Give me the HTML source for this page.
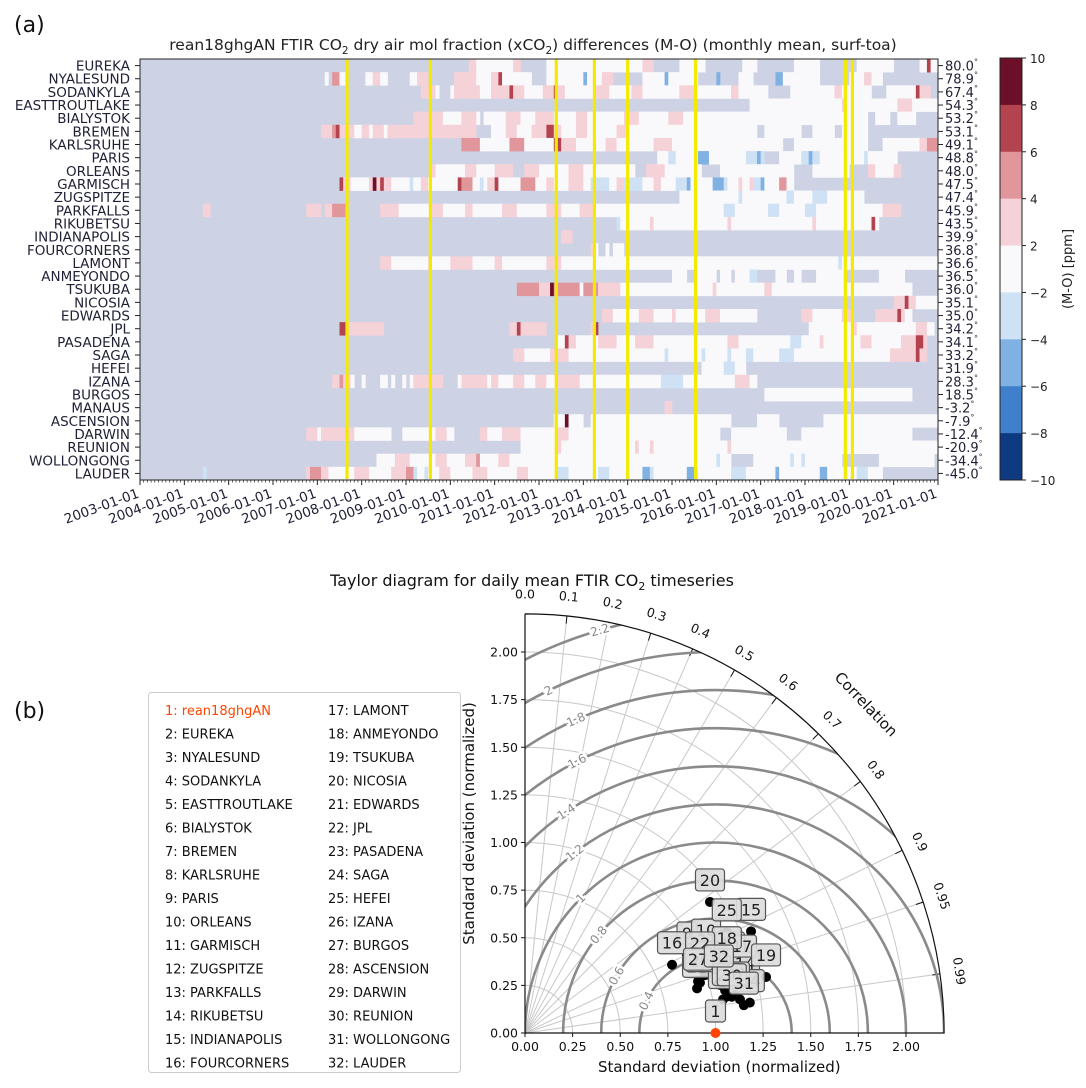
<!DOCTYPE html>
<html><head><meta charset="utf-8">
<style>
html,body{margin:0;padding:0;background:#fff;overflow:hidden;width:1086px;height:1088px;}
svg{display:block;}
svg text{font-family:"DejaVu Sans","Liberation Sans",sans-serif;}
</style></head>
<body>
<svg id="fig" width="1086" height="1088" viewBox="0 0 1086 1088" xmlns="http://www.w3.org/2000/svg">
  <text x="14" y="32" font-size="22" fill="#111">(a)</text>
  <text x="533" y="50" font-size="15.5" text-anchor="middle" fill="#222">rean18ghgAN FTIR CO<tspan font-size="10.5" dy="4">2</tspan><tspan dy="-4"> dry air mol fraction (xCO</tspan><tspan font-size="10.5" dy="4">2</tspan><tspan dy="-4">) differences (M-O) (monthly mean, surf-toa)</tspan></text>
  <g id="heat"></g>
  <g id="cbar"></g>
  <text x="14" y="718" font-size="22" fill="#111">(b)</text>
  <text x="532" y="586" font-size="16" text-anchor="middle" fill="#111">Taylor diagram for daily mean FTIR CO<tspan font-size="11" dy="4">2</tspan><tspan dy="-4"> timeseries</tspan></text>
  <g id="legend"></g>
  <g id="taylor"></g>
</svg>
<script>
// ---------- heatmap data ----------
const stations = ["EUREKA","NYALESUND","SODANKYLA","EASTTROUTLAKE","BIALYSTOK","BREMEN","KARLSRUHE","PARIS","ORLEANS","GARMISCH","ZUGSPITZE","PARKFALLS","RIKUBETSU","INDIANAPOLIS","FOURCORNERS","LAMONT","ANMEYONDO","TSUKUBA","NICOSIA","EDWARDS","JPL","PASADENA","SAGA","HEFEI","IZANA","BURGOS","MANAUS","ASCENSION","DARWIN","REUNION","WOLLONGONG","LAUDER"];
const latitudes = ["80.0","78.9","67.4","54.3","53.2","53.1","49.1","48.8","48.0","47.5","47.4","45.9","43.5","39.9","36.8","36.6","36.5","36.0","35.1","35.0","34.2","34.1","33.2","31.9","28.3","18.5","-3.2","-7.9","-12.4","-20.9","-34.4","-45.0"];
// run-length rows: code+months ; g=no data, w=-2..2, p=2..4, r=4..6, R=6..8, D=8..10, b=-2..-4, B=-4..-6, N=-6..-8
const monthlyRuns = [
"g89 p2 w10 p2 g7 w26 p3 g7 w7 g10 w4 g10 w7 g10 w10 g7 w2 R1 w3",
"g50 w1 g1 r2 w2 g5 w2 p2 w2 g6 w2 p3 g7 p6 w4 p2 R1 w8 g4 w10 B1 w4 p3 g8 w6 B1 w8 g5 B1 g5 w4 g6 B2 w10 g8 w4 p2 w3",
"g76 p4 w1 g3 w1 p7 w3 p5 R1 p3 w5 p3 R1 p2 w8 p4 w6 p3 w10 p4 w10 p2 w8 g6 w12 p2 w8 g4 w8 R1 p3",
"g165 w25 p1 w14 p4 w7",
"g74 p8 w5 p4 w1 g1 w6 p4 w4 p5 w6 p3 w10 p4 w8 p4 w50 g2 w4 g2 w5 g25",
"g49 p3 r1 R1 p4 w2 p2 w1 p3 w1 p24 g4 w4 p3 w4 p4 R2 p2 w4 p3 w8 p3 w35 g2 w10 g3 w6 g2 w7 g16",
"g87 r5 w3 w5 r4 w8 R2 p4 w8 p3 w10 p5 w30 g3 w20 g4 w10 p2 r3 w4",
"g140 w3 b2 w6 B3 w4 w6 b3 B1 b1 g4 w6 b2 B1 b2 w12 b1 w8 g15",
"g79 p1 w8 p3 w5 p5 g3 p4 w8 p4 w14 g3 p5 w10 g5 w10 w10 g5 w10 g5 p2 w5 p2",
"g54 R1 p2 w5 p1 D1 p1 R1 p2 w5 b1 w2 p2 w8 R1 r3 w2 b1 w1 p2 R1 w6 r4 w3 p2 w4 p4 w2 b5 w2 p2 b5 w3 p2 w4 b3 B1 w6 B3 b1 w3 p1 w2 p1 b2 B1 w4 r2 w2 g14",
"g146 w16 b1 w12 b2 w5 b4 w10 g16",
"g17 p2 g26 p4 g1 p2 r4 g9 p5 w9 p3 w6 p2 w8 p4 w8 p4 w5 p4 w35 b3 w9 b3 w7 b3 w18 p5",
"g129 b1 w8 p1 w20 p1 w22 p1 w15 R1 w1 g17",
"g114 p3 g99",
"g122 p1 w1 g2 w1 g1 w3 g85",
"g65 p3 w10 p1 w5 p6 w6 p2 w2 w10 p4 w75 b1 w30 p3 w1 p1 w2",
"g144 w4 g2 w6 g1 w3 g1 w4 b2 g5 w3 g2 w2 g4 w4 w4 g9 w7 g16",
"g102 r6 p3 D1 r7 w1 r4 p6 w25 p1 w13 p2 w38 g16",
"g204 p3 R1 p2 w6",
"g125 p3 w4 w3 p4 w5 p1 w8 p4 w10 g12 p3 w8 p3 g6 p6 R1 p1 w2",
"g54 R2 p10 g34 p2 R1 p7 g12 p1 R1 g46 g11 w12 p1 w16 p3 w2 g6",
"g113 w2 R1 p2 w6 p5 w5 p5 w20 p3 w14 b3 w5 p1 w10 p3 w8 p4 R2 p1",
"g101 p3 w7 p5 w26 b1 w9 b1 w6 b1 w4 b1 b1 w7 b4 w26 p7 R1 p2",
"g152 w6 b3 w3 g52",
"g52 p2 r1 p2 w1 g2 w1 g4 w2 g1 w1 g2 w1 g1 w1 p8 g4 w1 p7 w1 p2 w4 p3 w3 p3 w3 p6 w22 b6 w14 p4 w2",
"g169 w40 g7",
"g142 p2 g72",
"g112 w3 D1 w4 g2 w38 g7 w6 g12 w32",
"g45 p3 w1 p9 w10 g3 w9 p3 w2 g7 p2 w4 p5 w10 p3 w16 w25 g3 w15 g4 w30",
"g103 w10 p1 w20 p1 w3 p1 w20 p1 w40 w17",
"g64 w5 p4 w4 w3 p3 w5 p3 r1 w5 p3 w16 w40 b1 w3 g6 w10 b1 w2 b1 w10 g10 w10 w5",
"g17 b1 g27 p1 r3 p2 w7 p4 w4 w2 p4 r2 b1 w2 b1 w3 p3 w6 p4 w8 p3 w8 b3 w8 b3 w9 B2 b1 w9 B2 b1 w9 b4 w8 B1 w11 B2 w8 b3 w4"
];
const yellowLines = [2007.67, 2009.55, 2012.39, 2013.25, 2014.0, 2015.53, 2018.91, 2019.07];
const yearTicks = [2003,2004,2005,2006,2007,2008,2009,2010,2011,2012,2013,2014,2015,2016,2017,2018,2019,2020,2021];
const cbarLevels = [10,8,6,4,2,-2,-4,-6,-8,-10];
const cbarColors = ["#6b1028","#b3434f","#e0969b","#f5d1d8","#f9f9fb","#cfe1f4","#7fb1e2","#3f7fcc","#0d3a80"];

const NS="http://www.w3.org/2000/svg";
function el(tag, attrs, parent){const e=document.createElementNS(NS,tag);for(const k in attrs)e.setAttribute(k,attrs[k]);parent.appendChild(e);return e;}
const colorOf={g:"#cdd3e5",w:"#f9f9fb",p:"#f5d1d8",r:"#e0969b",R:"#b3434f",D:"#6b1028",b:"#cfe1f4",B:"#7fb1e2",N:"#3f7fcc"};
const HX0=140,HX1=938,HY0=59,HY1=480,NM=216,Y0=2003,Y1=2021;
const hx=v=>HX0+(v-Y0)/(Y1-Y0)*(HX1-HX0);
const mx=m=>HX0+m/NM*(HX1-HX0);
const rowH=(HY1-HY0)/stations.length;
const ry=i=>HY0+i*rowH;
const heat=document.getElementById('heat');
const bg=el('rect',{x:HX0,y:HY0,width:HX1-HX0,height:HY1-HY0,fill:colorOf.g},heat);


monthlyRuns.forEach((s,i)=>{
  let m=0;
  s.trim().split(/\s+/).forEach(tok=>{
    const c=tok[0],n=parseInt(tok.slice(1));
    const end=Math.min(NM,m+n);
    if(end>m && c!=='g'){
      const r=el('rect',{x:mx(m),y:ry(i),width:mx(end)-mx(m)+0.3,height:rowH+0.3,fill:colorOf[c]},heat);
      
      
    }
    m=end;
  });
  const lab=el('text',{x:HX0-10,y:ry(i)+rowH/2+5,'font-size':13.5,'text-anchor':'end',fill:'#1f2035'},heat);
  lab.textContent=stations[i];
  
  
  el('line',{x1:HX0-5,x2:HX0,y1:ry(i)+rowH/2,y2:ry(i)+rowH/2,stroke:'#222'},heat);
  el('line',{x1:HX1,x2:HX1+5,y1:ry(i)+rowH/2,y2:ry(i)+rowH/2,stroke:'#222'},heat);
  const lt=el('text',{x:HX1+7,y:ry(i)+rowH/2+5,'font-size':13,fill:'#1f2035'},heat);
  lt.textContent=latitudes[i];
  const sup=el('tspan',{'font-size':8,dy:-6},lt); sup.textContent='°';
  
  
});
yellowLines.forEach(v=>{
  const l=el('line',{x1:hx(v),x2:hx(v),y1:HY0,y2:HY1-1,stroke:'#f4ea00','stroke-width':3.2},heat);
  
  
});
el('rect',{x:HX0,y:HY0,width:HX1-HX0,height:HY1-HY0,fill:'none',stroke:'#222','stroke-width':1},heat);
yearTicks.forEach(yv=>{
  const x=hx(yv);
  el('line',{x1:x,x2:x,y1:HY1,y2:HY1+5,stroke:'#222'},heat);
  for(let k=1;k<12;k++){const xx=hx(yv+k/12); if(xx<HX1) el('line',{x1:xx,x2:xx,y1:HY1,y2:HY1+2.5,stroke:'#222','stroke-width':0.7},heat);}
  const t=el('text',{x:x,y:HY1+17,'font-size':13.5,'text-anchor':'end',fill:'#1f2035',transform:`rotate(-20 ${x} ${HY1+17})`},heat);
  t.textContent=yv+'-01-01';
  
  
});
// colorbar
const cb=document.getElementById('cbar');
const CX=1000,CW=22,CY0=58,CY1=480,bh=(CY1-CY0)/cbarColors.length;
cbarColors.forEach((c,i)=>{
  const r=el('rect',{x:CX,y:CY0+i*bh,width:CW,height:bh+0.3,fill:c},cb);
  
  
});
el('rect',{x:CX,y:CY0,width:CW,height:CY1-CY0,fill:'none',stroke:'#222'},cb);
cbarLevels.forEach((v,i)=>{
  const y=CY0+i*bh;
  el('line',{x1:CX+CW,x2:CX+CW+4,y1:y,y2:y,stroke:'#222'},cb);
  const t=el('text',{x:CX+CW+8,y:y+5,'font-size':12,fill:'#222'},cb);
  t.textContent=v<0?'\u2212'+(-v):String(v);
  
  
});
const cbl=el('text',{x:1072,y:(CY0+CY1)/2,'font-size':13,'text-anchor':'middle',fill:'#222',transform:`rotate(-90 1072 ${(CY0+CY1)/2})`},cb);
cbl.textContent='(M-O) [ppm]';



// ---------- Taylor data ----------
const pointIds = [1,2,3,4,5,6,7,8,9,10,11,12,13,14,15,16,17,18,19,20,21,22,23,24,25,26,27,28,29,30,31,32];
const legendNames = ["rean18ghgAN","EUREKA","NYALESUND","SODANKYLA","EASTTROUTLAKE","BIALYSTOK","BREMEN","KARLSRUHE","PARIS","ORLEANS","GARMISCH","ZUGSPITZE","PARKFALLS","RIKUBETSU","INDIANAPOLIS","FOURCORNERS","LAMONT","ANMEYONDO","TSUKUBA","NICOSIA","EDWARDS","JPL","PASADENA","SAGA","HEFEI","IZANA","BURGOS","ASCENSION","DARWIN","REUNION","WOLLONGONG","LAUDER"];
const stdNorm = [1.0,1.055,1.074,1.118,1.151,1.089,1.047,1.147,0.944,1.041,1.134,0.993,1.142,1.182,1.301,0.851,1.189,1.127,1.299,1.190,0.933,0.986,1.054,1.191,1.185,0.956,0.948,1.120,1.077,1.102,1.158,1.058];
const corrVals = [1.0,0.971,0.978,0.962,0.958,0.950,0.952,0.970,0.901,0.913,0.949,0.952,0.988,0.977,0.912,0.907,0.958,0.940,0.974,0.816,0.968,0.932,0.986,0.991,0.894,0.961,0.958,0.984,0.984,0.985,0.992,0.962];
const stdTicks = [0,0.25,0.5,0.75,1.0,1.25,1.5,1.75,2.0];
const corrTicks = [0.0,0.1,0.2,0.3,0.4,0.5,0.6,0.7,0.8,0.9,0.95,0.99];
const rmsLevels = [0.4,0.6,0.8,1,1.2,1.4,1.6,1.8,2,2.2];
const rmsLabelAngles = [155,150,140,135,128,124,117,114,116,106];

const T=document.getElementById('taylor');
const OX=525,OY=1033,S=190.5,RMAX=2.2;
const px=(s,c)=>OX+S*s*c, py=(s,c)=>OY-S*s*Math.sqrt(Math.max(0,1-c*c));
const defs=el('defs',{},T);
const cp=el('clipPath',{id:'quad'},defs);
el('path',{d:`M${OX},${OY} L${OX+S*RMAX},${OY} A${S*RMAX},${S*RMAX} 0 0 0 ${OX},${OY-S*RMAX} Z`},cp);
stdTicks.forEach(s=>{ if(s<=0) return;
  const a=el('path',{d:`M${OX+S*s},${OY} A${S*s},${S*s} 0 0 0 ${OX},${OY-S*s}`,fill:'none',stroke:'#c8c8c8','stroke-width':1},T);
  
  
});
corrTicks.forEach(c=>{
  const l=el('line',{x1:OX,y1:OY,x2:px(RMAX,c),y2:py(RMAX,c),stroke:'#c8c8c8','stroke-width':1},T);
  
  
  const th=Math.acos(c);
  el('line',{x1:px(RMAX,c),y1:py(RMAX,c),x2:px(RMAX-0.04,c),y2:py(RMAX-0.04,c),stroke:'#111'},T);
  const lx=px(RMAX+0.08,c), ly=py(RMAX+0.08,c);
  const rot=90-th*180/Math.PI;
  const t=el('text',{x:lx,y:ly,'font-size':12.5,'text-anchor':'middle',fill:'#111',transform:`rotate(${rot} ${lx} ${ly})`},T);
  t.textContent=c.toFixed(c===0.95||c===0.99?2:1);
  
  
});
{const c=0.72,lx=px(RMAX+0.26,c),ly=py(RMAX+0.26,c),rot=90-Math.acos(c)*180/Math.PI;
 const t=el('text',{x:lx,y:ly,'font-size':15,'text-anchor':'middle',fill:'#111',transform:`rotate(${rot} ${lx} ${ly})`},T);
 t.textContent='Correlation';
 
 }
const rg=el('g',{'clip-path':'url(#quad)'},T);
rmsLevels.forEach(d=>{
  const c=el('circle',{cx:OX+S*1,cy:OY,r:S*d,fill:'none',stroke:'#8a8a8a','stroke-width':2.6},rg);
  
  
});
rmsLevels.forEach((d,i)=>{
  const a=rmsLabelAngles[i]*Math.PI/180;
  const lx=OX+S*(1+d*Math.cos(a)), ly=OY-S*d*Math.sin(a);
  const rot=-(rmsLabelAngles[i]-90);
  const t=el('text',{x:lx,y:ly+4,'font-size':12,'text-anchor':'middle',fill:'#8a8a8a',stroke:'#fff','stroke-width':5,'paint-order':'stroke',transform:`rotate(${rot} ${lx} ${ly})`},T);
  t.textContent=String(d);
  
  
});
el('path',{d:`M${OX},${OY-S*RMAX} L${OX},${OY} L${OX+S*RMAX},${OY} A${S*RMAX},${S*RMAX} 0 0 0 ${OX},${OY-S*RMAX}`,fill:'none',stroke:'#111','stroke-width':1.2},T);
stdTicks.forEach(s=>{
  el('line',{x1:OX-4,x2:OX,y1:OY-S*s,y2:OY-S*s,stroke:'#111'},T);
  el('line',{x1:OX+S*s,x2:OX+S*s,y1:OY,y2:OY+4,stroke:'#111'},T);
  const ty=el('text',{x:OX-7,y:OY-S*s+4.5,'font-size':12.5,'text-anchor':'end',fill:'#111'},T);
  ty.textContent=s.toFixed(2);
  
  
  const tx=el('text',{x:OX+S*s,y:OY+18,'font-size':12.5,'text-anchor':'middle',fill:'#111'},T);
  tx.textContent=s.toFixed(2);
  
  
});
{const t=el('text',{x:OX+S*1.02,y:OY+39,'font-size':15,'text-anchor':'middle',fill:'#111'},T);
 t.textContent='Standard deviation (normalized)';
 
 
 const t2=el('text',{x:474,y:OY-S*1.1,'font-size':15,'text-anchor':'middle',fill:'#111',transform:`rotate(-90 474 ${OY-S*1.1})`},T);
 t2.textContent='Standard deviation (normalized)';
 
 }
pointIds.forEach((id,i)=>{
  const x=px(stdNorm[i],corrVals[i]), y=py(stdNorm[i],corrVals[i]);
  const c=el('circle',{cx:x,cy:y,r:5,fill:i===0?'#ff4500':'#000'},T);
  
  
});
pointIds.forEach((id,i)=>{
  const x=px(stdNorm[i],corrVals[i]), y=py(stdNorm[i],corrVals[i])-22;
  const w=id<10?20:29;
  const r=el('rect',{x:x-w/2,y:y-11,width:w,height:22,rx:3,fill:'#dcdcdc','fill-opacity':0.92,stroke:'#555','stroke-width':1.2},T);
  
  
  const t=el('text',{x:x,y:y+6,'font-size':16,'text-anchor':'middle',fill:'#222'},T);
  t.textContent=String(id);
  
  
});
const L=document.getElementById('legend');
el('rect',{x:148.5,y:692.5,width:312,height:380,rx:3,fill:'#fff',stroke:'#ccc'},L);
legendNames.forEach((n,i)=>{
  const col=Math.floor(i/16), row=i%16;
  const t=el('text',{x:165+col*163,y:715+row*23.5,'font-size':13,fill:i===0?'#ff4500':'#111'},L);
  t.textContent=pointIds[i]+': '+n;
  
  
});
</script>
</body></html>
